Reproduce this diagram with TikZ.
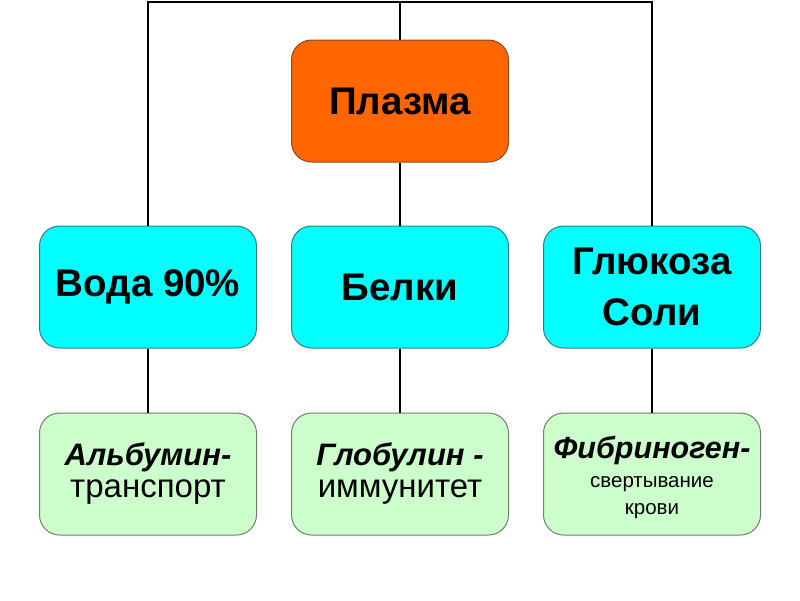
\documentclass[tikz,border=0pt]{standalone}
\usepackage{fontspec}
\setmainfont{Liberation Sans}
\definecolor{plasmaorange}{HTML}{FF6600}
\definecolor{plasmaborder}{HTML}{8A4A1E}
\definecolor{cyanfill}{HTML}{00FFFF}
\definecolor{cyanborder}{HTML}{3C7A7A}
\definecolor{greenfill}{HTML}{CCFFCC}
\definecolor{greenborder}{HTML}{6F7F6F}
\begin{document}
\begin{tikzpicture}[x=1pt,y=1pt,
  boxbase/.style={draw, line width=1pt, rounded corners=20pt, minimum width=217pt, minimum height=122pt, align=center, inner sep=0pt},
  topbox/.style={boxbase, fill=plasmaorange, draw=plasmaborder, font=\bfseries\fontsize{38.5}{50}\selectfont},
  midbox/.style={boxbase, fill=cyanfill, draw=cyanborder, font=\bfseries\fontsize{38.5}{51}\selectfont},
  lowbox/.style={boxbase, fill=greenfill, draw=greenborder, font=\fontsize{33}{32}\selectfont},
  lowtext/.style={align=center, inner sep=0pt, font=\fontsize{20.5}{28}\selectfont},
  conn/.style={line width=2pt, black}]
\useasboundingbox (0,0) rectangle (800,-600);
\fill[white] (0,0) rectangle (800,-600);
\node[topbox] (plasma) at (400,-101) {Плазма};
\node[midbox] (voda) at (148,-287) {Вода 90\%};
\node[midbox] (belki) at (400,-287) {Белки};
\node[midbox] (glu) at (652,-287) {Глюкоза\\Соли};
\node[lowbox] (alb) at (148,-474) {{\bfseries\itshape\fontsize{31}{32}\selectfont Альбумин-}\\транспорт};
\node[lowbox] (glob) at (400,-474) {{\bfseries\itshape\fontsize{31}{32}\selectfont Глобулин -}\\иммунитет};
\node[lowbox] (fib) at (652,-474) {};
\node[lowtext] (fibtext) at ([yshift=-3pt]fib.center) {{\bfseries\itshape\fontsize{30.5}{32}\selectfont Фибриноген-}\\[1pt]свертывание\\[-1pt]крови};
\coordinate (top) at (400,-2);
\draw[conn] (voda.north) |- (top) -| (glu.north);
\draw[conn] (plasma.north) -- (top);
\draw[conn] (plasma.south) -- (belki.north);
\draw[conn] (voda.south) -- (alb.north);
\draw[conn] (belki.south) -- (glob.north);
\draw[conn] (glu.south) -- (fib.north);
\end{tikzpicture}
\end{document}
